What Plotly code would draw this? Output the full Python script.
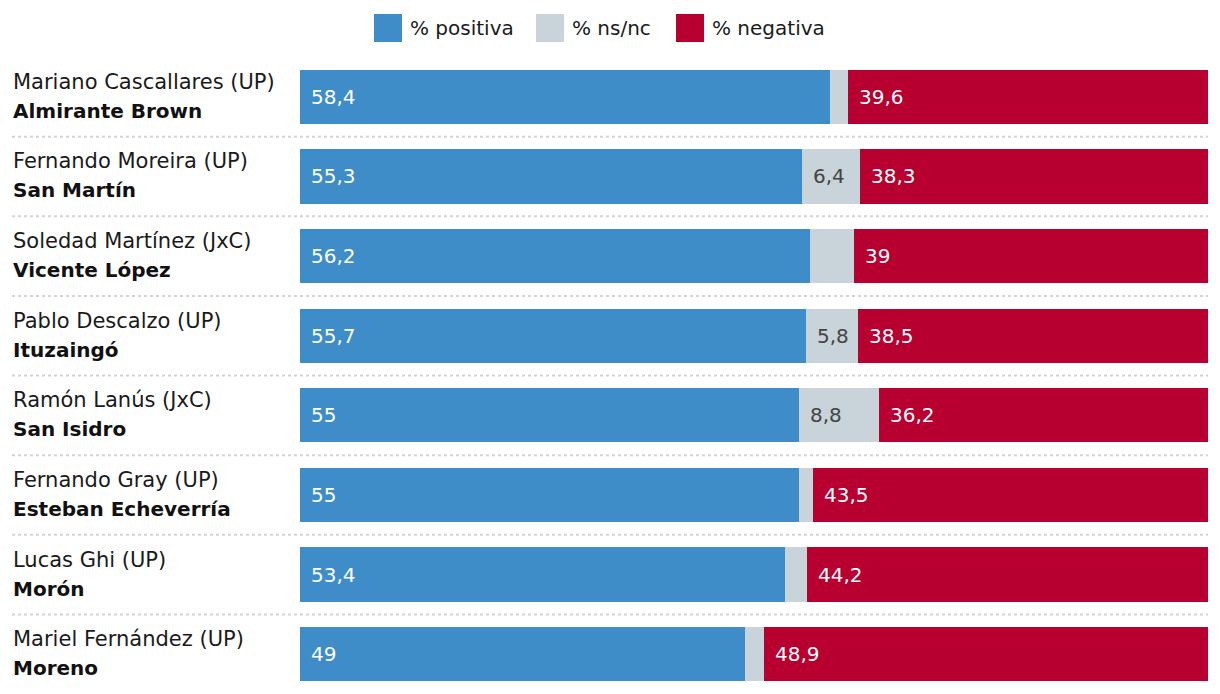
import plotly.graph_objects as go

names = ["Mariano Cascallares (UP)", "Fernando Moreira (UP)", "Soledad Martínez (JxC)",
         "Pablo Descalzo (UP)", "Ramón Lanús (JxC)", "Fernando Gray (UP)",
         "Lucas Ghi (UP)", "Mariel Fernández (UP)"]
municipios = ["Almirante Brown", "San Martín", "Vicente López", "Ituzaingó",
              "San Isidro", "Esteban Echeverría", "Morón", "Moreno"]
positiva = [58.4, 55.3, 56.2, 55.7, 55.0, 55.0, 53.4, 49.0]
nsnc = [2.0, 6.4, 4.8, 5.8, 8.8, 1.5, 2.4, 2.1]
negativa = [39.6, 38.3, 39.0, 38.5, 36.2, 43.5, 44.2, 48.9]

series = [("% positiva", positiva, "#3f8dc8", "white"),
          ("% ns/nc", nsnc, "#c8d3da", "#444444"),
          ("% negativa", negativa, "#b70030", "white")]

FONT = "DejaVu Sans"
FS = 20

def fmt(v):
    s = ("%.1f" % v).rstrip("0").rstrip(".")
    return s.replace(".", ",")

fig = go.Figure()
for name, vals, color, _ in series:
    fig.add_trace(go.Bar(y=municipios, x=vals, name=name, orientation="h",
                         marker=dict(color=color, line=dict(width=0)),
                         width=0.68, hoverinfo="x+name"))

annotations = []
for i, m in enumerate(municipios):
    start = 0
    for name, vals, color, tcolor in series:
        v = vals[i]
        if not (name == "% ns/nc" and v < 5):
            annotations.append(dict(x=start, y=m, xref="x", yref="y", text=fmt(v),
                                    showarrow=False, xanchor="left", yanchor="middle",
                                    xshift=9, font=dict(family=FONT, size=FS, color=tcolor)))
        start += v
    annotations.append(dict(x=-289 / 908, y=m, xref="paper", yref="y", text=names[i],
                            showarrow=False, xanchor="left", yanchor="middle", yshift=15,
                            font=dict(family=FONT, size=21, color="#1a1a1a")))
    annotations.append(dict(x=-289 / 908, y=m, xref="paper", yref="y", text="<b>" + municipios[i] + "</b>",
                            showarrow=False, xanchor="left", yanchor="middle", yshift=-14,
                            font=dict(family=FONT, size=FS, color="#111111")))

shapes = []
for i in range(len(municipios) - 1):
    shapes.append(dict(type="line", xref="paper", yref="y", x0=-288 / 908, x1=1,
                       y0=i + 0.5, y1=i + 0.5, line=dict(color="#d4d4d4", width=2, dash="dot")))

leg_x = [374, 536, 676]
for (name, _, color, _), lx in zip(series, leg_x):
    x0 = (lx - 300) / 908
    x1 = (lx + 28 - 300) / 908
    shapes.append(dict(type="rect", xref="paper", yref="paper", x0=x0, x1=x1,
                       y0=(694 - 42) / 637, y1=(694 - 14) / 637,
                       fillcolor=color, line=dict(width=0)))
    annotations.append(dict(x=(lx + 34 - 300) / 908, y=(694 - 28) / 637, xref="paper", yref="paper",
                            text=name, showarrow=False, xanchor="left", yanchor="middle",
                            font=dict(family=FONT, size=FS, color="#1a1a1a")))

fig.update_layout(
    width=1220, height=694, barmode="stack", showlegend=False,
    margin=dict(l=300, r=12, t=57, b=0),
    plot_bgcolor="white", paper_bgcolor="white",
    xaxis=dict(range=[0, 100], visible=False, fixedrange=True),
    yaxis=dict(autorange=False, range=[7.5, -0.5], showticklabels=False, showgrid=False,
               zeroline=False, fixedrange=True),
    annotations=annotations, shapes=shapes, bargap=0,
    font=dict(family=FONT),
)
fig.write_html("out.html", config={"displayModeBar": False},
               post_script="document.body.style.margin='0';")
